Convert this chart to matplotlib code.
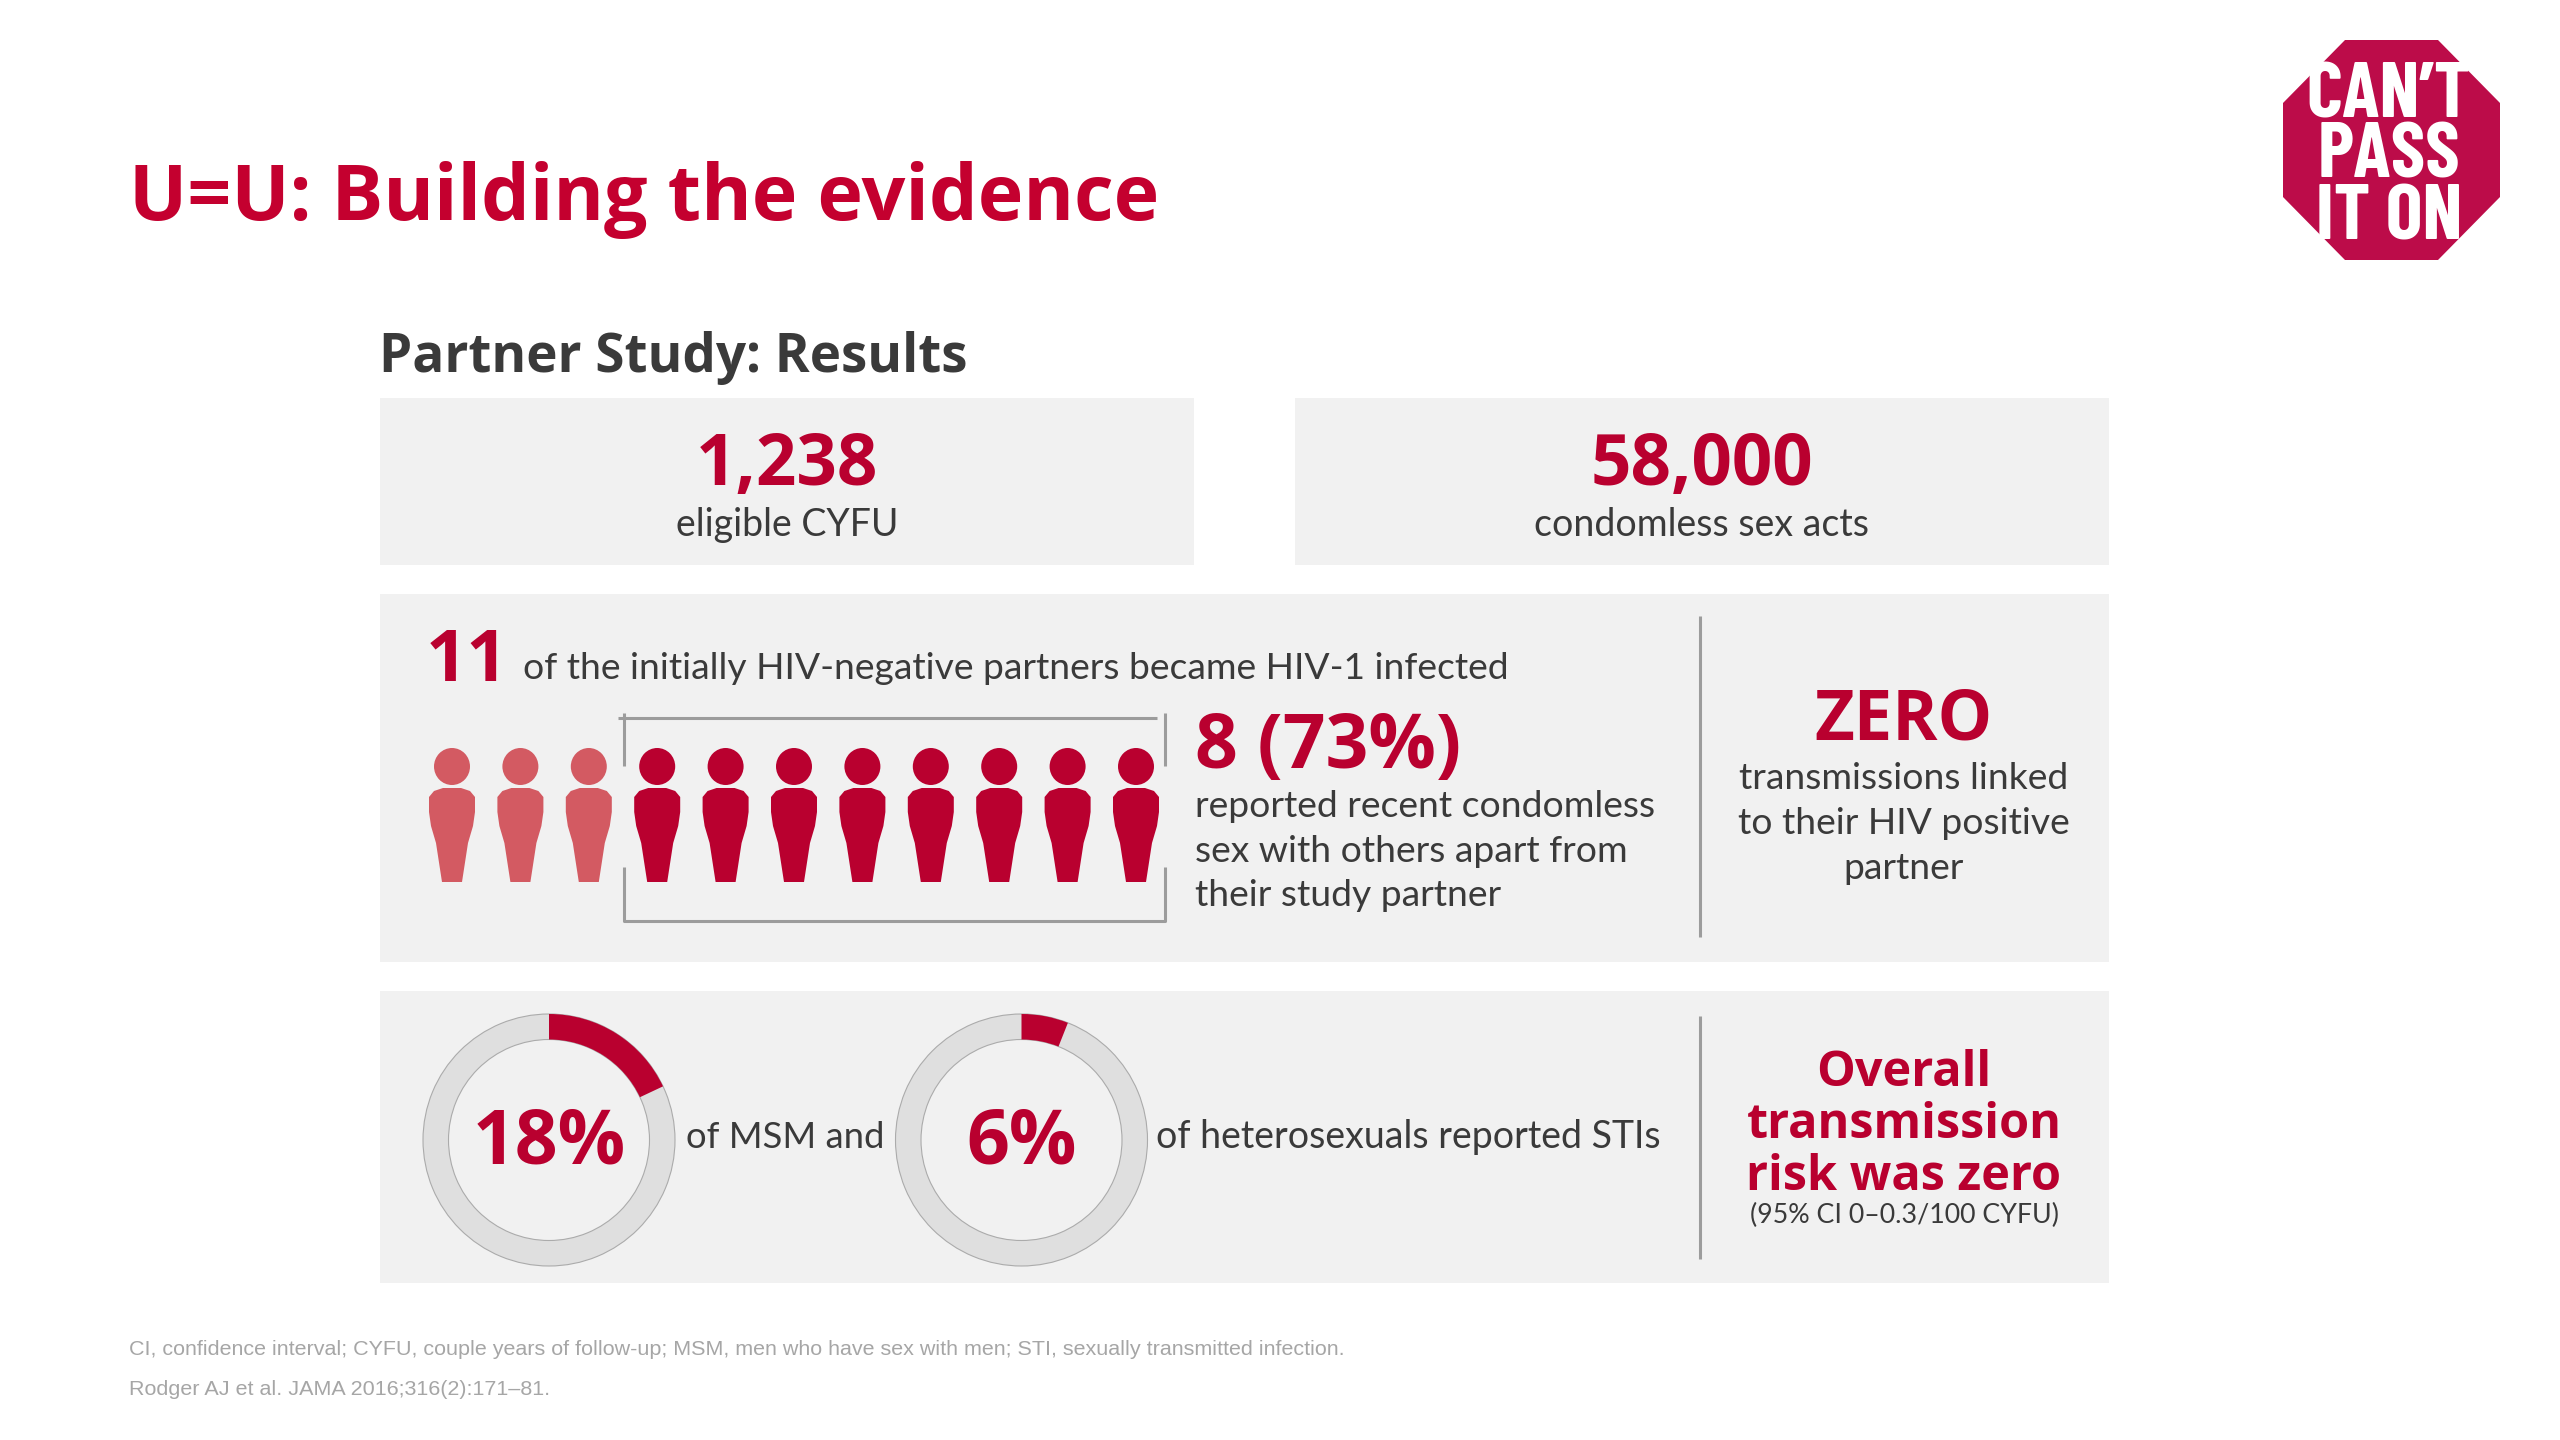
import matplotlib
matplotlib.use("Agg")
import matplotlib.pyplot as plt
from matplotlib.patches import Rectangle, Wedge, Ellipse, Polygon

RED = "#B9002F"
TITLE_RED = "#C4002F"
LIGHT_RED = "#D35A62"
PANEL = "#F1F1F1"
RING = "#DFDFDF"
DARK = "#3A3A3A"
BOLD = ["Open Sans", "DejaVu Sans"]

plt.rcParams['font.family'] = ['Lato', 'DejaVu Sans']

# data
total_infected = 11
linked_apart = 8
sti_percent = [18, 6]
sti_labels = ["18%", "6%"]
stat_values = ["1,238", "58,000"]
stat_labels = ["eligible CYFU", "condomless sex acts"]
apart_lines = ["reported recent condomless", "sex with others apart from", "their study partner"]
zero_lines = ["transmissions linked", "to their HIV positive", "partner"]
overall_lines = ["Overall", "transmission", "risk was zero"]
logo_lines = ["CAN\u2019T", "PASS", "IT ON"]

fig = plt.figure(figsize=(25.6, 14.4), dpi=100)
ax = fig.add_axes([0, 0, 1, 1])
ax.set_xlim(0, 2560)
ax.set_ylim(1440, 0)
ax.axis("off")

def panel(x0, y0, x1, y1):
	ax.add_patch(Rectangle((x0, y0), x1 - x0, y1 - y0, fc=PANEL, ec="none"))

def line(xs, ys, color="#9C9C9C", lw=2.2):
	ax.plot(xs, ys, color=color, lw=lw, solid_capstyle="butt")

def person(cx, color):
	ax.add_patch(Ellipse((cx, 766.5), 36, 37, fc=color, ec="none"))
	outline = [(-10, 882), (-16, 843), (-21, 826), (-23, 812), (-23, 797), (-18, 791),
		(-9, 788), (9, 788), (18, 791), (23, 797), (23, 812), (21, 826), (16, 843), (10, 882)]
	ax.add_patch(Polygon([(cx + a, b) for a, b in outline], fc=color, ec="none"))

def ring(cx, cy, pct):
	ax.add_patch(Wedge((cx, cy), 126, 0, 360, width=25.5, fc=RING, ec="#ABABAB", lw=0.8))
	ax.add_patch(Wedge((cx, cy), 126, -90, -90 + 3.6 * pct, width=25.5, fc=RED, ec="none"))

def bold(x, y, text, size, color=RED, ha="left"):
	ax.text(x, y, text, color=color, fontsize=size, fontweight="bold", ha=ha, family=BOLD)

# header
bold(129, 220, "U=U: Building the evidence", 55.5, TITLE_RED)
bold(379, 372, "Partner Study: Results", 38.2, DARK)

# logo
ax.add_patch(Polygon([(2345, 40), (2438, 40), (2500, 103), (2500, 197), (2438, 260), (2345, 260),
	(2283, 197), (2283, 103)], fc="#BC0C49", ec="none"))
for text, base in zip(logo_lines, [117, 178, 240]):
	ax.text(2389, base, text, color="white", fontsize=56, fontweight="bold", ha="center",
		family=["Barlow Condensed", "Roboto"])

# panels
panel(380, 398, 1194, 565)
panel(1295, 398, 2109, 565)
panel(380, 594, 2109, 962)
panel(380, 991, 2109, 1283)

for cx, value, label in zip([787, 1702], stat_values, stat_labels):
	bold(cx, 485, value, 51, ha="center")
	ax.text(cx, 536, label, color=DARK, fontsize=27, ha="center")

# infected partners
bold(426, 681, str(total_infected), 52)
ax.text(523, 679, "of the initially HIV-negative partners became HIV-1 infected", color=DARK, fontsize=26.8)

for i in range(total_infected):
	color = RED if i >= total_infected - linked_apart else LIGHT_RED
	person(452 + i * 68.4, color)

line([624, 624], [713, 766])
line([1165, 1165], [713, 766])
line([618, 1157], [718, 718])
line([624, 624, 1165, 1165], [867, 921, 921, 867])

bold(1195, 768, "%d (73%%)" % linked_apart, 54)
for text, base in zip(apart_lines, [817, 862, 906]):
	ax.text(1195, base, text, color=DARK, fontsize=26.8)

line([1700, 1700], [616, 937])
bold(1904, 739, "ZERO", 49.5, ha="center")
for text, base in zip(zero_lines, [789, 834, 879]):
	ax.text(1904, base, text, color=DARK, fontsize=26.8, ha="center")

# STI rings
for cx, pct, label in zip([549, 1021.5], sti_percent, sti_labels):
	ring(cx, 1140, pct)
	bold(cx, 1163, label, 54, ha="center")
ax.text(686, 1148, "of MSM and", color=DARK, fontsize=26.2)
ax.text(1156, 1148, "of heterosexuals reported STIs", color=DARK, fontsize=27)

line([1700, 1700], [1016, 1259])
for text, base in zip(overall_lines, [1086, 1138, 1190]):
	bold(1904, base, text, 35, ha="center")
ax.text(1904, 1223, "(95% CI 0\u20130.3/100 CYFU)", color=DARK, fontsize=19.3, ha="center")

# footnotes
ax.text(129, 1355, "CI, confidence interval; CYFU, couple years of follow-up; MSM, men who have sex with men; STI, sexually transmitted infection.",
	color="#A6A6A6", fontsize=15.45, family="Liberation Sans")
ax.text(129, 1395, "Rodger AJ et al. JAMA 2016;316(2):171\u201381.", color="#A6A6A6", fontsize=15.45, family="Liberation Sans")

fig.savefig("out.png", dpi=100, facecolor="white")
